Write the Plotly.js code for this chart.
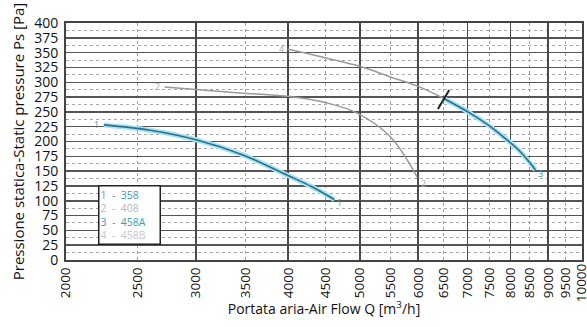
<!DOCTYPE html>
<html>
<head>
<meta charset="utf-8">
<script src="https://cdn.plot.ly/plotly-3.0.1.min.js"></script>
<style>html,body{margin:0;padding:0;background:#fff;}#chart{width:587px;height:327px;}</style>
</head>
<body>
<div id="chart"></div>
<script>
// Curve 1 - 358
const q1 = [2250, 2600, 3000, 3480, 3990, 4300, 4620];
const p1 = [228, 219, 203, 177, 143, 124, 102];
// Curve 2 - 408
const q2 = [2720, 3440, 4020, 4520, 4960, 5500, 5980];
const p2 = [292, 282, 276, 265, 248, 208, 140];
// Curve 4 - 458B (upper part)
const q4 = [3990, 4500, 5000, 5500, 6000, 6490];
const p4 = [356, 341, 327, 309, 293, 273];
// Curve 3 - 458A (continuation)
const q3 = [6490, 7050, 7460, 7820, 8200, 8500, 8650];
const p3 = [273, 248, 228, 208, 186, 164, 152];
// Limit mark crossing the curve
const markQ = [6380, 6610];
const markP = [255, 287];

const curveIds = ['1', '2', '3', '4'];
const curveNames = ['358', '408', '458A', '458B'];

const xTickVals = [2000,2500,3000,3500,4000,4500,5000,5500,6000,6500,7000,7500,8000,8500,9000,9500];
const xEndTick = [10000];
const xMajorVals = [2000,3000,4000,5000,6000,7000,8000,9000,10000];
const yTickVals = [0,25,50,75,100,125,150,175,200,225,250,275,300,325,350,375,400];

const blueDark = '#2c6f8c';
const blueGlow = '#a6e3f2';
const grayLine = '#9a9a9a';
const FONT = 'Open Sans, sans-serif';

function glow(q, p) {
  return {x: q, y: p, mode: 'lines', line: {color: blueGlow, width: 5, shape: 'spline'}, hoverinfo: 'skip', showlegend: false};
}
function line(q, p, c, w) {
  return {x: q, y: p, mode: 'lines', line: {color: c, width: w, shape: 'spline'}, showlegend: false};
}

const traces = [
  glow(q1, p1), line(q1, p1, blueDark, 1.6),
  line(q2, p2, grayLine, 1.5),
  line(q4, p4, grayLine, 1.5),
  glow(q3, p3), line(q3, p3, blueDark, 1.6),
  {x: markQ, y: markP, xaxis: 'x2', mode: 'lines', line: {color: '#222', width: 2}, showlegend: false},
  {x: xEndTick, y: [0], xaxis: 'x3', mode: 'markers', marker: {size: 0.1, opacity: 0}, showlegend: false}
];

const labelColors = ['#5a8a9a', '#aaaaaa', '#3a8fb8', '#aaaaaa'];
function lab(x, y, t, c, xs, ys) {
  return {x: Math.log10(x), y: y, text: t, showarrow: false, xref: 'x', yref: 'y',
    xshift: xs, yshift: ys, font: {family: FONT, size: 9, color: c}};
}
const legendColors = [['#7c9aa8', '#4b95c4'], ['#b8b8b8', '#b8b8b8'], ['#3a9cc0', '#3a9cc0'], ['#c8c8c8', '#c8c8c8']];
const legendText = curveIds.map((id, i) =>
  `<span style="color:${legendColors[i][0]}">${id}</span><span style="color:${legendColors[i][1]}">  -  ${curveNames[i]}</span>`
).join('<br>');

const annotations = [
  lab(q1[0], p1[0], curveIds[0], labelColors[0], -7, 0),
  lab(q1[q1.length-1], p1[p1.length-1], curveIds[0], labelColors[0], 5, -3),
  lab(q2[0], p2[0], curveIds[1], labelColors[1], -7, 0),
  lab(q2[q2.length-1], p2[p2.length-1], curveIds[1], labelColors[1], 6, -6),
  lab(q3[q3.length-1], p3[p3.length-1], curveIds[2], labelColors[2], 5, -4),
  lab(q4[0], p4[0], curveIds[3], labelColors[3], -6, 1),
  {xref: 'paper', yref: 'paper', x: 0.062, y: 0.318, xanchor: 'left', yanchor: 'top',
   text: legendText, showarrow: false, align: 'left', width: 58,
   bgcolor: '#fff', bordercolor: '#222', borderwidth: 1.5, borderpad: 1,
   font: {family: FONT, size: 10.5, color: '#888'}}
];

const tickFont = {family: FONT, size: 13.5, color: '#111'};
const xRange = [Math.log10(2000), 4];

const layout = {
  width: 587, height: 327,
  margin: {l: 66, r: 5, t: 23, b: 67},
  paper_bgcolor: '#fff', plot_bgcolor: '#fff',
  showlegend: false,
  font: {family: FONT, color: '#111'},
  xaxis: {
    type: 'log', range: xRange, automargin: false,
    tickmode: 'array', tickvals: xTickVals, ticktext: xTickVals.map(String),
    tickangle: -90, tickfont: tickFont,
    ticklabeloverflow: 'allow', ticklabelstandoff: 0,
    showgrid: true, gridcolor: '#a0a0a0', gridwidth: 1, griddash: 'dot',
    showline: true, linecolor: '#444', linewidth: 2, mirror: true,
    ticks: '', zeroline: false,
    title: {text: 'Portata aria-Air Flow Q [m<sup>3</sup>/h]', font: {family: FONT, size: 14, color: '#111'}, standoff: 4}
  },
  xaxis2: {
    type: 'log', range: xRange, overlaying: 'x', anchor: 'y',
    tickmode: 'array', tickvals: xMajorVals, showticklabels: false, ticks: '',
    showgrid: true, gridcolor: '#4a4a4a', gridwidth: 1.5, showline: false, zeroline: false
  },
  xaxis3: {
    type: 'log', range: xRange, overlaying: 'x', anchor: 'y', side: 'bottom', automargin: false,
    tickmode: 'array', tickvals: xEndTick, ticktext: xEndTick.map(String),
    tickangle: -90, tickfont: tickFont, ticklabeloverflow: 'allow', ticklabelstandoff: 0,
    showgrid: false, ticks: '', showline: false, zeroline: false
  },
  yaxis: {
    range: [0, 400], tickmode: 'array', tickvals: yTickVals, ticktext: yTickVals.map(String),
    tickfont: {family: FONT, size: 14, color: '#111'}, automargin: false,
    showgrid: true, gridcolor: '#555', gridwidth: 1.5,
    minor: {dtick: 12.5, showgrid: true, gridcolor: '#a8a8a8', gridwidth: 1, griddash: 'dot', ticks: ''},
    showline: true, linecolor: '#444', linewidth: 2, mirror: true,
    ticks: '', zeroline: false, ticklabelstandoff: 3,
    title: {text: 'Pressione statica-Static pressure Ps [Pa]', font: {family: FONT, size: 15, color: '#111'}, standoff: 6}
  },
  annotations: annotations
};

Plotly.newPlot('chart', traces, layout, {staticPlot: true, displayModeBar: false});
</script>
</body>
</html>
